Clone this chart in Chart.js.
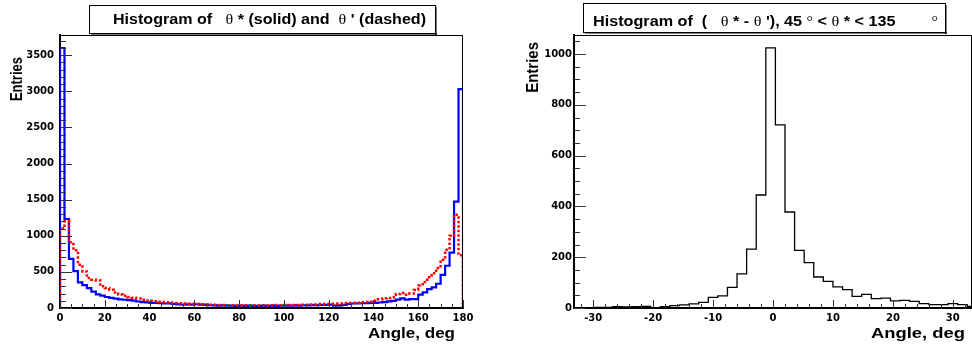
<!DOCTYPE html>
<html>
<head>
<meta charset="utf-8">
<script src="https://cdn.jsdelivr.net/npm/chart.js@4.4.1/dist/chart.umd.min.js"></script>
<style>
    body { margin: 0; background: #fff; }
    #wrap { position: relative; width: 972px; height: 346px; overflow: hidden; background: #fff; }
    canvas { position: absolute; top: 0; }
</style>
</head>
<body>
<div id="wrap">
    <canvas id="thetaChart" width="486" height="346" style="left:0"></canvas>
    <canvas id="diffChart" width="486" height="346" style="left:486px"></canvas>
</div>
<script>
// left histogram: 2 deg bins from 0 to 180
var thetaLo = 0, thetaBin = 2;
var thetaStar = [3600, 1232, 680, 510, 354, 318, 274, 228, 190, 172,
    152, 140, 130, 120, 114, 110, 102, 90, 80, 78,
    72, 70, 66, 62, 64, 56, 50, 46, 50, 48,
    52, 46, 44, 38, 36, 34, 36, 32, 34, 30,
    32, 30, 32, 28, 30, 32, 30, 34, 30, 32,
    34, 32, 36, 34, 38, 36, 40, 38, 42, 44,
    48, 34, 36, 44, 58, 62, 64, 66, 66, 70,
    72, 76, 82, 92, 100, 115, 133, 116, 122, 124,
    184, 216, 262, 285, 336, 460, 585, 768, 1473, 3030];
var thetaPrime = [1100, 1200, 910, 800, 600, 506, 414, 392, 382, 300,
    276, 253, 216, 186, 170, 152, 142, 133, 115, 105,
    100, 94, 86, 80, 76, 70, 66, 62, 60, 58,
    54, 52, 50, 46, 44, 42, 40, 38, 38, 36,
    36, 38, 36, 38, 36, 38, 36, 38, 40, 38,
    40, 42, 40, 42, 44, 44, 48, 50, 54, 56,
    58, 60, 62, 66, 68, 70, 72, 78, 83, 87,
    100, 120, 135, 140, 150, 193, 207, 184, 200, 250,
    310, 360, 425, 480, 553, 668, 806, 1000, 1290, 730];
var thetaXTicks = [0, 20, 40, 60, 80, 100, 120, 140, 160, 180];
var thetaYTicks = [0, 500, 1000, 1500, 2000, 2500, 3000, 3500];

// right histogram: theta* - theta', 1.6 deg bins
var diffLo = -33.2, diffBin = 1.6;
var thetaDiff = [1, 1, 2, 2, 5, 4, 5, 6, 1, 5,
    9, 12, 16, 22, 42, 48, 81, 134, 232, 445,
    1024, 721, 378, 227, 179, 122, 105, 83, 72, 46,
    54, 37, 39, 28, 30, 26, 17, 13, 13, 17,
    13, 6];
var diffXTicks = [-30, -20, -10, 0, 10, 20, 30];
var diffYTicks = [0, 200, 400, 600, 800, 1000];

var BOLD = '"Liberation Sans", Arial, sans-serif';
var GREEK = '"Liberation Serif", serif';

function histPoints(lo, w, vals) {
    var pts = [{ x: lo, y: 0 }];
    vals.forEach(function (v, i) { pts.push({ x: lo + i * w, y: v }); });
    pts.push({ x: lo + vals.length * w, y: 0 });
    return pts;
}

function drawRich(ctx, segs, x, y, width) {
    var total = 0;
    segs.forEach(function (s) { ctx.font = s.font; s.w = ctx.measureText(s.text).width; total += s.w; });
    var k = width ? width / total : 1;
    ctx.save();
    ctx.translate(x, y);
    ctx.scale(k, 1);
    ctx.fillStyle = "#000";
    ctx.textBaseline = "alphabetic";
    ctx.textAlign = "left";
    var cx = 0;
    segs.forEach(function (s) { ctx.font = s.font; ctx.fillText(s.text, cx, s.dy || 0); cx += s.w; });
    ctx.restore();
}

// ROOT-like frame: ticks inside, title box, axis titles
var rootFrame = {
    id: "rootFrame",
    afterDatasetsDraw: function (chart, args, o) {
        var ctx = chart.ctx, a = chart.chartArea, xs = chart.scales.x, ys = chart.scales.y;
        ctx.save();
        ctx.strokeStyle = "#000";
        ctx.lineWidth = 1;
        ctx.beginPath();
        ctx.moveTo(a.left, a.top + 0.5);
        ctx.lineTo(a.right, a.top + 0.5);
        ctx.moveTo(a.right - 0.5, a.top);
        ctx.lineTo(a.right - 0.5, a.bottom);
        ctx.stroke();

        ctx.strokeStyle = "#333";
        ctx.beginPath();
        var v, px, major;
        for (v = Math.ceil(xs.min / o.xMinor) * o.xMinor; v <= xs.max + 1e-9; v += o.xMinor) {
            px = Math.round(xs.getPixelForValue(v)) + 0.5;
            major = Math.abs(v / o.xMajor - Math.round(v / o.xMajor)) < 1e-6;
            ctx.moveTo(px, a.bottom);
            ctx.lineTo(px, a.bottom - (major ? o.xMajorLen : o.xMinorLen));
        }
        for (v = Math.ceil(ys.min / o.yMinor) * o.yMinor; v <= ys.max + 1e-9; v += o.yMinor) {
            px = Math.round(ys.getPixelForValue(v)) + 0.5;
            major = Math.abs(v / o.yMajor - Math.round(v / o.yMajor)) < 1e-6;
            ctx.moveTo(a.left, px);
            ctx.lineTo(a.left + (major ? o.yMajorLen : o.yMinorLen), px);
        }
        ctx.stroke();

        // title box with shadow
        var b = o.box;
        ctx.fillStyle = "#fff";
        ctx.fillRect(b.x, b.y, b.w, b.h);
        ctx.strokeStyle = "#000";
        ctx.lineWidth = 1;
        ctx.strokeRect(b.x + 0.5, b.y + 0.5, b.w, b.h);
        ctx.fillStyle = "#000";
        ctx.fillRect(b.x + 2, b.y + b.h, b.w, 1.5);
        ctx.fillRect(b.x + b.w, b.y + 2, 1.5, b.h);
        drawRich(ctx, o.title, o.titleX, o.titleY, o.titleW);

        // y title, rotated and aligned to the top
        ctx.save();
        ctx.translate(o.yTitle.x, o.yTitle.y);
        ctx.rotate(-Math.PI / 2);
        ctx.scale(1, o.yTitle.stretch);
        ctx.font = "bold " + o.yTitle.size + "px " + BOLD;
        ctx.textAlign = "right";
        ctx.textBaseline = "alphabetic";
        ctx.fillStyle = "#000";
        ctx.fillText("Entries", 0, 0);
        ctx.restore();

        // x title, right aligned
        drawRich(ctx, [{ text: "Angle, deg", font: "bold 14px " + BOLD }], o.xTitle.x - o.xTitle.w, o.xTitle.y, o.xTitle.w);
        ctx.restore();
    }
};

function axisOpts(tickVals, min, max, pad, fitKey, fitVal) {
    return {
        type: "linear",
        min: min,
        max: max,
        grid: { display: false, drawTicks: false },
        border: { display: true, color: "#000", width: 2 },
        ticks: {
            color: "#000",
            padding: pad,
            autoSkip: false,
            maxRotation: 0,
            includeBounds: false,
            font: { family: '"DejaVu Sans", sans-serif', size: 10, weight: "bold" },
            callback: function (v) { return String(v); }
        },
        afterBuildTicks: function (scale) {
            scale.ticks = tickVals.map(function (t) { return { value: t }; });
        },
        afterFit: function (scale) { scale[fitKey] = fitVal; }
    };
}

var B15 = "bold 15px " + BOLD, G15 = "15px " + GREEK;

var ctxLeft = document.getElementById("thetaChart").getContext("2d");
var leftChart = new Chart(ctxLeft, {
    type: "line",
    data: {
        datasets: [
            {
                label: "theta*",
                data: histPoints(thetaLo, thetaBin, thetaStar),
                borderColor: "#0000ff",
                borderWidth: 2.2,
                stepped: "before",
                pointRadius: 0,
                fill: false,
                order: 1
            },
            {
                label: "theta'",
                data: histPoints(thetaLo, thetaBin, thetaPrime),
                borderColor: "#ff0000",
                borderWidth: 2.5,
                borderDash: [2.5, 2],
                stepped: "before",
                pointRadius: 0,
                fill: false,
                order: 0
            }
        ]
    },
    options: {
        responsive: false,
        animation: false,
        layout: { padding: { top: 35, right: 23, left: 0, bottom: 0 } },
        scales: {
            x: axisOpts(thetaXTicks, 0, 180, 4, "height", 38),
            y: axisOpts(thetaYTicks, 0, 3780, 6, "width", 60)
        },
        plugins: {
            legend: { display: false },
            tooltip: { enabled: false },
            rootFrame: {
                xMajor: 20, xMinor: 5, xMajorLen: 8, xMinorLen: 4,
                yMajor: 500, yMinor: 100, yMajorLen: 12, yMinorLen: 6,
                box: { x: 89, y: 5, w: 346, h: 28 },
                title: [
                    { text: "Histogram of   ", font: B15 },
                    { text: "\u03b8", font: G15 },
                    { text: " * (solid) and  ", font: B15 },
                    { text: "\u03b8", font: G15 },
                    { text: " ' (dashed)", font: B15 }
                ],
                titleX: 113, titleY: 24, titleW: 313,
                yTitle: { x: 21.5, y: 57, size: 13, stretch: 1.25 },
                xTitle: { x: 455, y: 338, w: 87 }
            }
        }
    },
    plugins: [rootFrame]
});

var ctxRight = document.getElementById("diffChart").getContext("2d");
var rightChart = new Chart(ctxRight, {
    type: "line",
    data: {
        datasets: [
            {
                label: "theta* - theta'",
                data: histPoints(diffLo, diffBin, thetaDiff),
                borderColor: "#000",
                borderWidth: 1.3,
                stepped: "before",
                pointRadius: 0,
                fill: false
            }
        ]
    },
    options: {
        responsive: false,
        animation: false,
        layout: { padding: { top: 35, right: 0, left: 0, bottom: 0 } },
        scales: {
            x: axisOpts(diffXTicks, -33.2, 33.2, 4, "height", 38),
            y: axisOpts(diffYTicks, 0, 1075, 2, "width", 88)
        },
        plugins: {
            legend: { display: false },
            tooltip: { enabled: false },
            rootFrame: {
                xMajor: 10, xMinor: 2, xMajorLen: 8, xMinorLen: 4,
                yMajor: 200, yMinor: 50, yMajorLen: 12, yMinorLen: 6,
                box: { x: 97, y: 3, w: 362, h: 29 },
                title: [
                    { text: "Histogram of  (   ", font: B15 },
                    { text: "\u03b8", font: G15 },
                    { text: " * - ", font: B15 },
                    { text: "\u03b8", font: G15 },
                    { text: " '), 45 ", font: B15 },
                    { text: "\u00b0", font: G15 },
                    { text: " < ", font: B15 },
                    { text: "\u03b8", font: G15 },
                    { text: " * < 135        ", font: B15 },
                    { text: "\u00b0", font: G15 }
                ],
                titleX: 107, titleY: 26, titleW: 345,
                yTitle: { x: 51.5, y: 42, size: 15, stretch: 1.15 },
                xTitle: { x: 479, y: 338, w: 94 }
            }
        }
    },
    plugins: [rootFrame]
});
</script>
</body>
</html>
